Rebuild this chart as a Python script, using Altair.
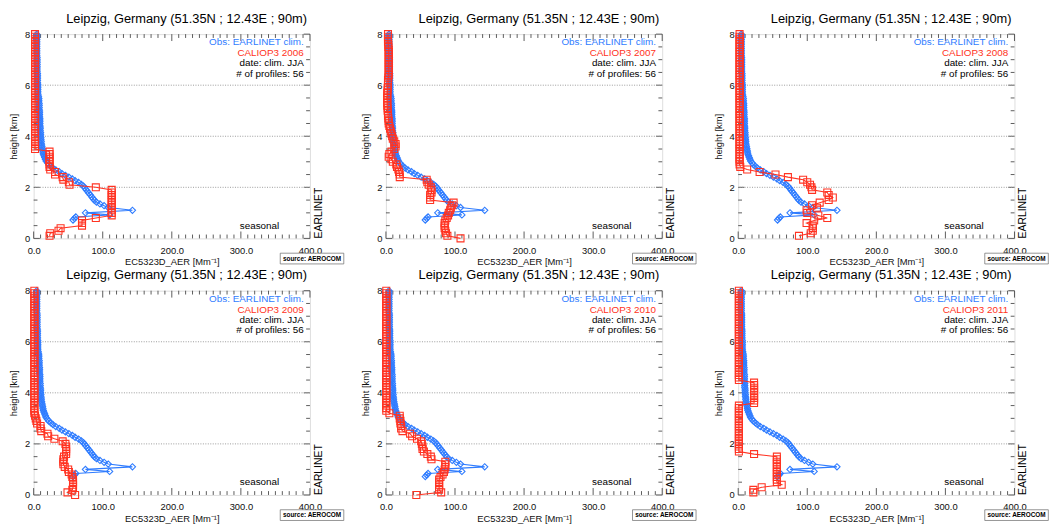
import altair as alt
import pandas as pd

FONT = "Liberation Sans, Arial, sans-serif"
BLUE = "#2f7cff"
RED = "#ff3322"

TITLE = "Leipzig, Germany (51.35N ; 12.43E ; 90m)"
X_TITLE = "EC5323D_AER  [Mm\u207b\u00b9]"
Y_TITLE = "height [km]"
YEARS = ["2006", "2007", "2008", "2009", "2010", "2011"]
X_LABELS = [0, 100, 200, 300, 400]
Y_LABELS = [0, 2, 4, 6, 8]
GRID_Y = [2, 4, 6]

# EARLINET climatology (same in every panel)
BLUE_H = [0.72, 0.78, 0.84, 0.92, 1.00, 1.10, 1.21,
          1.28, 1.35, 1.42, 1.49, 1.56, 1.63, 1.70, 1.77, 1.84, 1.91, 1.98,
          2.05, 2.12, 2.19, 2.26, 2.33, 2.40, 2.47, 2.54, 2.61, 2.68, 2.75, 2.82, 2.89, 2.96,
          3.03, 3.10, 3.17, 3.24, 3.31, 3.38, 3.45, 3.52, 3.59, 3.66, 3.73, 3.80, 3.87, 3.94,
          4.01, 4.08, 4.15, 4.22, 4.29, 4.36, 4.43, 4.50, 4.57, 4.64, 4.71, 4.78, 4.85, 4.92, 4.99,
          5.06, 5.13, 5.20, 5.27, 5.34, 5.41, 5.48, 5.55, 5.62, 5.69, 5.76, 5.83, 5.90, 5.97,
          6.04, 6.11, 6.18, 6.25, 6.32, 6.39, 6.46, 6.53, 6.60, 6.67, 6.74, 6.81, 6.88, 6.95,
          7.02, 7.09, 7.16, 7.23, 7.30, 7.37, 7.44, 7.51, 7.58, 7.65, 7.72, 7.79, 7.86, 7.93, 8.00]
BLUE_V = [57, 59, 61, 110, 75, 143, 108,
          102, 96, 91, 88, 86, 84, 82, 80, 78, 76, 74,
          72, 69, 65, 60, 56, 51, 46, 41, 37, 32, 28, 25, 22, 20,
          18, 17, 16, 15, 14, 13.5, 13, 12.5, 12, 11.5, 11, 11, 10.5, 10.5,
          10, 10, 10, 9.5, 9.5, 9.5, 9, 9, 9, 9, 9, 8.5, 8.5, 8.5, 8.5,
          8, 8, 8, 8, 7.5, 7.5, 7.5, 7, 6.5, 6, 6, 6, 6, 6,
          6, 5.5, 5.5, 5.5, 5.5, 5.5, 5.5, 5, 5, 5, 5, 5, 5, 5,
          5, 5, 4.5, 4.5, 4.5, 4.5, 4.5, 4.5, 4.5, 4.5, 4.5, 4.5, 4.5, 4.5, 4.5]

# CALIOP3 levels (km)
RED_H = [0.0, 0.1, 0.2, 0.3, 0.4, 0.5, 0.6, 0.7, 0.8, 0.9,
         1.0, 1.1, 1.2, 1.3, 1.4, 1.5, 1.6, 1.7, 1.8, 1.9,
         2.0, 2.1, 2.2, 2.3, 2.4, 2.5, 2.6, 2.7, 2.8, 2.9,
         3.0, 3.1, 3.2, 3.3, 3.4, 3.5, 3.6, 3.7, 3.8, 3.9,
         4.0, 4.1, 4.2, 4.3, 4.4, 4.5, 4.6, 4.7, 4.8, 4.9,
         5.0, 5.1, 5.2, 5.3, 5.4, 5.5, 5.6, 5.7, 5.8, 5.9,
         6.0, 6.1, 6.2, 6.3, 6.4, 6.5, 6.6, 6.7, 6.8, 6.9,
         7.0, 7.1, 7.2, 7.3, 7.4, 7.5, 7.6, 7.7, 7.8, 7.9,
         8.0]

RED_2006 = [None, 23, 24, 36, 39, 70, 70, 70, 90, 113,
            113, 113, 113, 113, 113, 113, 113, 113, 113, 113,
            90, 52, 51, 43, 42, 31, 31, 24, 23, 23,
            23, 23, 23, 23, 23, 2, 2, 2, 2, 2,
            2, 2, 2, 2, 2, 2, 2, 2, 2, 2,
            2, 2, 2, 2, 2, 2, 2, 2, 2, 2,
            2, 2, 2, 2, 2, 2, 2, 2, 2, 2,
            2, 2, 2, 2, 2, 2, 2, 2, 2, 2,
            2]
RED_2007 = [108, 89, 87, 86, 85, 85, 85, 86, 88, 90,
            91, 93, 94, 96, 98, 64, 64, 64, 66, 66,
            65, 62, 60, 59, 20, 20, 19, 18, 16, 15,
            10, 8, 4, 5, 8, 12, 14, 14, 12, 10,
            9, 8, 7, 6, 5, 4, 4, 3.5, 3, 3,
            2.5, 2.5, 2, 2, 2, 2, 2, 2, 2.5, 2.5,
            3, 3, 3, 3.5, 4, 4, 4, 4, 4, 4,
            4, 4, 4, 4, 4, 3.5, 3.5, 3, 3, 3,
            3]
RED_2008 = [None, 88, 105, 108, 108, 108, 99, 110, 129, 116,
            100, 99, 114, 107, 118, 131, 137, 131, 129, 107,
            106, 104, 100, 94, 72, 54, 31, 13, 3, 2,
            2, 2, 2, 2, 2, 2, 2, 2, 2, 2,
            2, 2, 2, 2, 2, 2, 2, 2, 2, 2,
            2, 2, 2, 2, 2, 2, 2, 2, 2, 2,
            2, 2, 2, 2, 2, 2, 2, 2, 2, 2,
            2, 2, 2, 2, 2, 2, 2, 2, 2, 2,
            2]
RED_2009 = [60, 49, 56, 57, 57, 57, 57, 56, 55, 51,
            50, 45, 43, 43, 43, 44, 47, 47, 47, 47,
            46, 42, 30, 21, 20, 11, 10, 10, 5, 4,
            3, 2, 1, 1, 1, 1, 1, 1, 1, 1,
            1, 1, 1, 1, 1, 1, 1, 1, 1, 1,
            1, 1, 1, 1, 1, 1, 1, 1, 1, 1,
            1, 1, 1, 1, 1, 1, 1, 1, 1, 1,
            1, 1, 1, 1, 1, 1, 1, 1, 1, 1,
            1]
RED_2010 = [44, 80, 77, 77, 77, 77, 77, 79, 82, 84,
            85, 86, 86, 86, 66, 65, 60, 55, 53, 53,
            52, 51, 45, 38, 35, 24, 22, 22, 21, 21,
            20, 20, 5, 0.5, 0.5, 0.5, 0.5, 0.5, 0.5, 0.5,
            0.5, 0.5, 0.5, 0.5, 0.5, 0.5, 0.5, 0.5, 0.5, 0.5,
            0.5, 0.5, 0.5, 0.5, 0.5, 0.5, 0.5, 0.5, 0.5, 0.5,
            0.5, 0.5, 0.5, 0.5, 0.5, 0.5, 0.5, 0.5, 0.5, 0.5,
            0.5, 0.5, 0.5, 0.5, 0.5, 0.5, 0.5, 0.5, 0.5, 0.5,
            0.5]
RED_2011 = [None, 22, 22, 34, 63, 56, 56, 56, 56, 56,
            56, 56, 56, 56, 56, 56, 23, 1, 1, 1,
            1, 1, 1, 1, 1, 1, 1, 1, 1, 1,
            1, 1, 1, 1, 1, 1, 23, 23, 23, 23,
            23, 23, 23, 23, 23, 1, 1, 1, 1, 1,
            1, 1, 1, 1, 1, 1, 1, 1, 1, 1,
            1, 1, 1, 1, 1, 1, 1, 1, 1, 1,
            1, 1, 1, 1, 1, 1, 1, 1, 1, 1,
            1]
RED_SERIES = [RED_2006, RED_2007, RED_2008, RED_2009, RED_2010, RED_2011]

# annotation placement (data units)
LEGEND_X = 391
LEGEND_Y = [7.68, 7.26, 6.86, 6.45]
SEASONAL_POS = (327, 0.5)
SOURCE_BOX = (357, 449, -0.58, -1.0)

PANEL_W, PANEL_H = 280, 207


def tick_table():
    rows = []
    for xv in range(0, 401, 10):
        ln = 0.27 if xv % 100 == 0 else 0.15
        rows.append({"x": xv, "x2": xv, "y": 0, "y2": ln})
        rows.append({"x": xv, "x2": xv, "y": 8, "y2": 8 - ln})
    for k in range(0, 17):
        yv = k * 0.5
        ln = 9.0 if k % 4 == 0 else 5.5
        rows.append({"x": 0, "x2": ln, "y": yv, "y2": yv})
        rows.append({"x": 400, "x2": 400 - ln, "y": yv, "y2": yv})
    return pd.DataFrame(rows)


TICKS = tick_table()

XS = alt.Scale(domain=[0, 400], nice=False, zero=False)
YS = alt.Scale(domain=[0, 8], nice=False, zero=False)
XAXIS = alt.Axis(values=X_LABELS, format=".1f", title=X_TITLE, ticks=False, domain=False,
                 grid=False, labelFont=FONT, labelFontSize=9.5, labelColor="#111",
                 labelPadding=7, labelFlush=False, labelOverlap=False, titleFont=FONT,
                 titleFontSize=9.5, titleFontWeight="normal", titleColor="#111", titlePadding=2)
YAXIS = alt.Axis(values=Y_LABELS, format="d", title=Y_TITLE, ticks=False, domain=False,
                 grid=False, labelFont=FONT, labelFontSize=9.5, labelColor="#111",
                 labelPadding=4, labelFlush=False, labelOverlap=False, titleFont=FONT,
                 titleFontSize=9.5, titleFontWeight="normal", titleColor="#111", titlePadding=6)


def X(field):
    return alt.X(field, scale=XS, axis=XAXIS)


def Y(field):
    return alt.Y(field, scale=YS, axis=YAXIS)


def make_panel(idx):
    year = YEARS[idx]

    ticks = alt.Chart(TICKS).mark_rule(color="#333", strokeWidth=0.8).encode(
        x=X("x:Q"), x2="x2:Q", y=Y("y:Q"), y2="y2:Q")

    grid = alt.Chart(pd.DataFrame({"h": GRID_Y})).mark_rule(
        color="#9a9a9a", strokeDash=[1, 1.5], strokeWidth=1).encode(y=Y("h:Q"))

    blue_df = pd.DataFrame({"h": BLUE_H, "v": BLUE_V})
    red_df = pd.DataFrame({"h": RED_H, "v": RED_SERIES[idx]})

    blue_line = alt.Chart(blue_df).mark_line(color=BLUE, strokeWidth=1.1).encode(
        x=X("v:Q"), y=Y("h:Q"), order=alt.Order("h:Q"))
    blue_pts = alt.Chart(blue_df).mark_point(shape="diamond", filled=False, color=BLUE,
                                             size=40, strokeWidth=1.1, opacity=1).encode(
        x=X("v:Q"), y=Y("h:Q"))
    red_line = alt.Chart(red_df).mark_line(color=RED, strokeWidth=1.1).encode(
        x=X("v:Q"), y=Y("h:Q"), order=alt.Order("h:Q"))
    red_pts = alt.Chart(red_df).mark_point(shape="square", filled=False, color=RED,
                                           size=50, strokeWidth=1.1, opacity=1).encode(
        x=X("v:Q"), y=Y("h:Q"))

    legend_df = pd.DataFrame({
        "t": ["Obs: EARLINET clim.", "CALIOP3 " + year, "date: clim. JJA", "# of profiles: 56"],
        "x": [LEGEND_X] * 4, "y": LEGEND_Y, "c": [BLUE, RED, "#000000", "#000000"]})
    legend = alt.Chart(legend_df).mark_text(align="right", baseline="middle", font=FONT,
                                            fontSize=10).encode(
        x=X("x:Q"), y=Y("y:Q"), text="t:N", color=alt.Color("c:N", scale=None))

    seasonal = alt.Chart(pd.DataFrame({"t": ["seasonal"], "x": [SEASONAL_POS[0]],
                                       "y": [SEASONAL_POS[1]]})).mark_text(
        align="center", baseline="middle", font=FONT, fontSize=10, color="#000").encode(
        x=X("x:Q"), y=Y("y:Q"), text="t:N")

    earlinet = alt.Chart(pd.DataFrame({"t": ["EARLINET"], "x": [400], "y": [0]})).mark_text(
        align="left", baseline="top", angle=270, dy=4, font=FONT, fontSize=10.5,
        color="#000").encode(x=X("x:Q"), y=Y("y:Q"), text="t:N")

    box_df = pd.DataFrame({"x": [SOURCE_BOX[0]], "x2": [SOURCE_BOX[1]],
                           "y": [SOURCE_BOX[2]], "y2": [SOURCE_BOX[3]],
                           "xm": [(SOURCE_BOX[0] + SOURCE_BOX[1]) / 2],
                           "ym": [(SOURCE_BOX[2] + SOURCE_BOX[3]) / 2],
                           "t": ["source: AEROCOM"]})
    box = alt.Chart(box_df).mark_rect(fill="white", stroke="#666", strokeWidth=0.7).encode(
        x=X("x:Q"), x2="x2:Q", y=Y("y:Q"), y2="y2:Q")
    box_text = alt.Chart(box_df).mark_text(align="center", baseline="middle", font=FONT,
                                           fontSize=6.5, fontWeight="bold", color="#000").encode(
        x=X("xm:Q"), y=Y("ym:Q"), text="t:N")

    return alt.layer(ticks, grid, blue_line, blue_pts, red_line, red_pts, legend, seasonal,
                     earlinet, box, box_text).properties(
        width=PANEL_W, height=PANEL_H,
        title=alt.TitleParams(TITLE, font=FONT, fontSize=13, fontWeight="normal",
                              anchor="middle", frame="group", dx=15, offset=3, color="#000"))


panels = [make_panel(i) for i in range(6)]
chart = alt.concat(*panels, columns=3, spacing={"row": 53, "column": 77},
                   bounds="flush").properties(
    padding={"left": 0, "top": 0, "right": 0, "bottom": 0}
).configure_view(stroke="#222", strokeWidth=1).configure(background="white")

chart.save("out.html", embed_options={"renderer": "svg", "actions": False})
